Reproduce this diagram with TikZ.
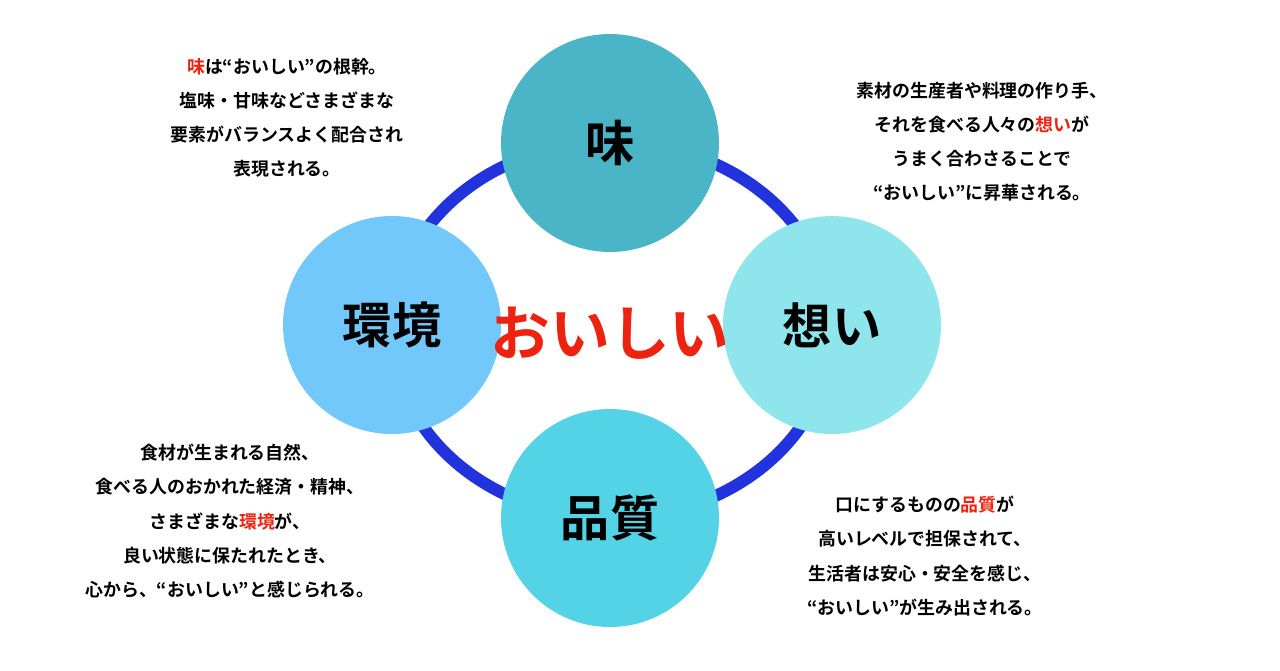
\documentclass[tikz,border=0pt]{standalone}
\usepackage{fontspec}
\setmainfont{Noto Sans CJK JP}[BoldFont={* Bold}]
\usetikzlibrary{positioning}
\definecolor{ringblue}{HTML}{2233DD}
\definecolor{hired}{HTML}{EE2211}
\definecolor{cTop}{HTML}{4BB5C8}
\definecolor{cLeft}{HTML}{72C8FB}
\definecolor{cRight}{HTML}{8EE6EC}
\definecolor{cBottom}{HTML}{55D3E6}
\tikzset{
  ball/.style={circle,minimum size=218*0.02cm,inner sep=0pt,font=\bfseries\fontsize{28}{30}\selectfont},
  note/.style={align=center,font=\bfseries\fontsize{10.2}{19.4}\selectfont},
}
\newcommand{\hl}[1]{\textcolor{hired}{#1}}
\begin{document}
\begin{tikzpicture}[x=0.02cm,y=-0.02cm]
\useasboundingbox (0,0) rectangle (1280,670);
% ring
\draw[ringblue,line width=12*0.02cm] (612,330) ellipse [x radius=220*0.02cm,y radius=188*0.02cm];
% four circles
\node[ball,fill=cTop] (aji) at (610,143) {味};
\node[ball,fill=cLeft] (kankyo) at (392,325) {環境};
\node[ball,fill=cRight] (omoi) at (832,325) {想い};
\node[ball,fill=cBottom] (hinshitsu) at (610,518) {品質};
\node[text=hired,font=\bfseries\fontsize{34}{36}\selectfont] (oishii) at (610,333) {おいしい};
% notes
\node[note] (nTop) at (287,118) {\hl{味}は“おいしい”の根幹。\\塩味・甘味などさまざまな\\要素がバランスよく配合され\\表現される。};
\node[note] (nRight) at (982,142) {素材の生産者や料理の作り手、\\それを食べる人々の\hl{想い}が\\うまく合わさることで\\“おいしい”に昇華される。};
\node[note] (nLeft) at (230,521) {食材が生まれる自然、\\食べる人のおかれた経済・精神、\\さまざまな\hl{環境}が、\\良い状態に保たれたとき、\\心から、“おいしい”と感じられる。};
\node[note] (nBottom) at (925,556) {口にするものの\hl{品質}が\\高いレベルで担保されて、\\生活者は安心・安全を感じ、\\“おいしい”が生み出される。};
\end{tikzpicture}
\end{document}
